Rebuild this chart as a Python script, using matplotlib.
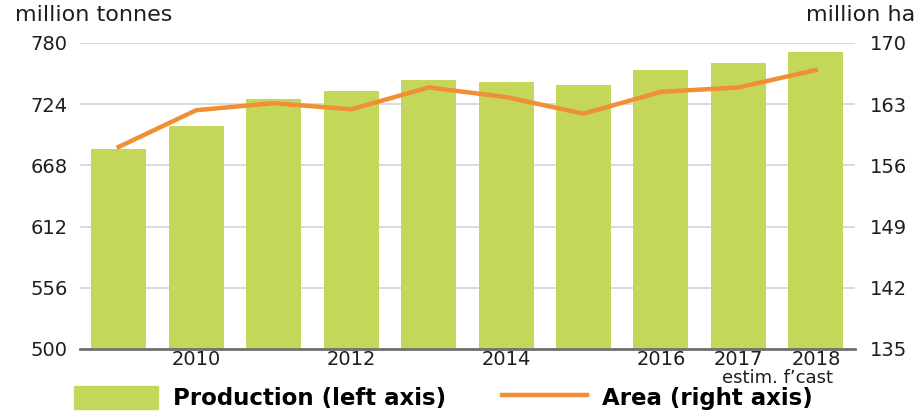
import matplotlib.pyplot as plt
from matplotlib.patches import Patch
from matplotlib.lines import Line2D

plt.rcParams['font.family'] = ['DejaVu Sans']

years = [2009, 2010, 2011, 2012, 2013, 2014, 2015, 2016, 2017, 2018]
year_labels = ['', '2010', '', '2012', '', '2014', '', '2016', '2017', '2018']
production = [683, 704, 729, 736, 746, 744, 741, 755, 762, 772]   # million tonnes
area = [158.1, 162.3, 163.1, 162.4, 164.9, 163.8, 161.9, 164.4, 164.9, 166.9]  # million ha
left_ticks = [500, 556, 612, 668, 724, 780]
right_ticks = [135, 142, 149, 156, 163, 170]

green = '#c4d75a'
orange = '#f08f33'
txt = '#1e1e1e'

fig = plt.figure(figsize=(9.19, 4.12), dpi=100)
ax = fig.add_axes([0.087, 0.153, 0.843, 0.743])
x = list(range(len(years)))

ax.bar(x, production, width=0.71, color=green, zorder=2)
ax.set_ylim(500, 780)
ax.set_xlim(-0.5, len(years) - 0.5)
ax.set_yticks(left_ticks)
ax.set_xticks(x)
ax.set_xticklabels(year_labels)
ax.grid(axis='y', color='#d4d4d4', lw=1.2, zorder=0)
for s in ['top', 'right', 'left']:
    ax.spines[s].set_visible(False)
ax.spines['bottom'].set_color('#707070')
ax.spines['bottom'].set_linewidth(2)
ax.spines['bottom'].set_zorder(4)
ax.tick_params(axis='both', length=0, labelsize=14, colors=txt)
ax.tick_params(axis='y', pad=9)
ax.tick_params(axis='x', pad=1)

ax2 = ax.twinx()
ax2.plot(x, area, color=orange, lw=3.2, zorder=3)
ax2.set_ylim(135, 170)
ax2.set_yticks(right_ticks)
for s in ax2.spines.values():
    s.set_visible(False)
ax2.tick_params(axis='y', length=0, labelsize=14, colors=txt, pad=11)

ax.text(8.5, -0.094, 'estim. f\u2019cast', transform=ax.get_xaxis_transform(),
        ha='center', va='center', fontsize=13, color=txt)

fig.text(0.016, 0.964, 'million tonnes', fontsize=16, color=txt, va='center')
fig.text(0.996, 0.964, 'million ha', fontsize=16, color=txt, va='center', ha='right')

handles = [Patch(color=green), Line2D([0], [0], color=orange, lw=3.2)]
fig.legend(handles, ['Production (left axis)', 'Area (right axis)'],
           loc='center left', bbox_to_anchor=(0.08, 0.034), ncol=2, frameon=False,
           prop={'weight': 'bold', 'size': 16.5}, handlelength=3.7, handleheight=1.2,
           columnspacing=2.45, handletextpad=0.65, borderpad=0, borderaxespad=0)

fig.savefig('out.png', dpi=100)
